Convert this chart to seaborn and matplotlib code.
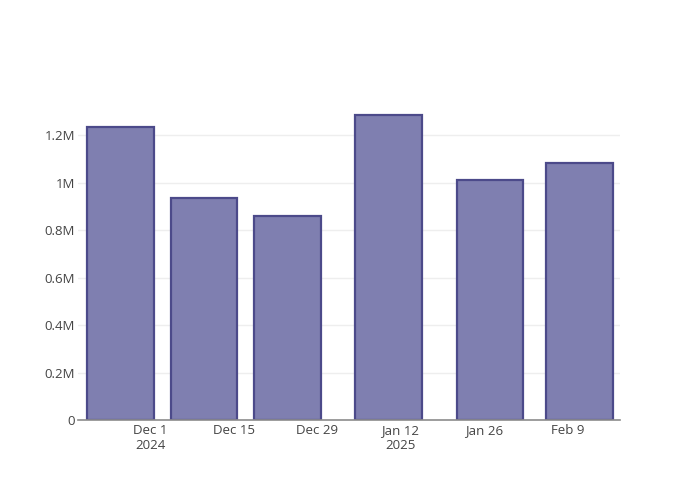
import numpy as np
import pandas as pd
import matplotlib
matplotlib.use('Agg')
import matplotlib.pyplot as plt
import matplotlib.dates as mdates
import seaborn as sns

# bar periods (start dates) and values
dates = ['2024-11-26', '2024-12-10', '2024-12-24', '2025-01-10', '2025-01-27', '2025-02-11']
values = [1235000, 935000, 858000, 1284000, 1012000, 1082000]

tick_dates = ['2024-12-01', '2024-12-15', '2024-12-29', '2025-01-12', '2025-01-26', '2025-02-09']
tick_labels = ['Dec 1\n2024', 'Dec 15', 'Dec 29', 'Jan 12\n2025', 'Jan 26', 'Feb 9']

y_ticks = [0, 200000, 400000, 600000, 800000, 1000000, 1200000]
y_labels = ['0', '0.2M', '0.4M', '0.6M', '0.8M', '1M', '1.2M']

sns.set_style("white")
plt.rcParams['font.family'] = ['Open Sans', 'DejaVu Sans']

df = pd.DataFrame({
    'x': mdates.date2num(pd.to_datetime(dates)),
    'value': values,
})

fig = plt.figure(figsize=(7, 5), dpi=100)
ax = fig.add_axes([78 / 700, 80 / 500, 542 / 700, 320 / 500])

sns.barplot(data=df, x='x', y='value', native_scale=True, width=0.8,
            color='#7f7fb0', saturation=1, edgecolor='#4c4a8a', linewidth=1.6,
            errorbar=None, ax=ax, zorder=2)

x_lo = mdates.date2num(pd.Timestamp('2024-11-18 21:00'))
x_hi = mdates.date2num(pd.Timestamp('2025-02-17 20:00'))
ax.set_xlim(x_lo, x_hi)
ax.set_ylim(0, max(values) * 1.05)

ax.set_xticks(mdates.date2num(pd.to_datetime(tick_dates)))
ax.set_xticklabels(tick_labels)
ax.set_yticks(y_ticks)
ax.set_yticklabels(y_labels)

ax.tick_params(axis='x', length=0, pad=3, labelsize=9.5, labelcolor='#444444')
ax.tick_params(axis='y', length=0, pad=2, labelsize=9.5, labelcolor='#444444')
for lbl in ax.get_xticklabels():
    lbl.set_linespacing(1.15)

ax.grid(True, axis='y', color='#eeeeee', linewidth=1, zorder=0)
ax.set_axisbelow(True)
for side in ['top', 'right', 'left']:
    ax.spines[side].set_visible(False)
ax.spines['bottom'].set_color('#8c8c8c')
ax.spines['bottom'].set_linewidth(1.2)
ax.spines['bottom'].set_zorder(3)

ax.set_xlabel('')
ax.set_ylabel('')

plt.savefig('out.png', dpi=100)
plt.close()
